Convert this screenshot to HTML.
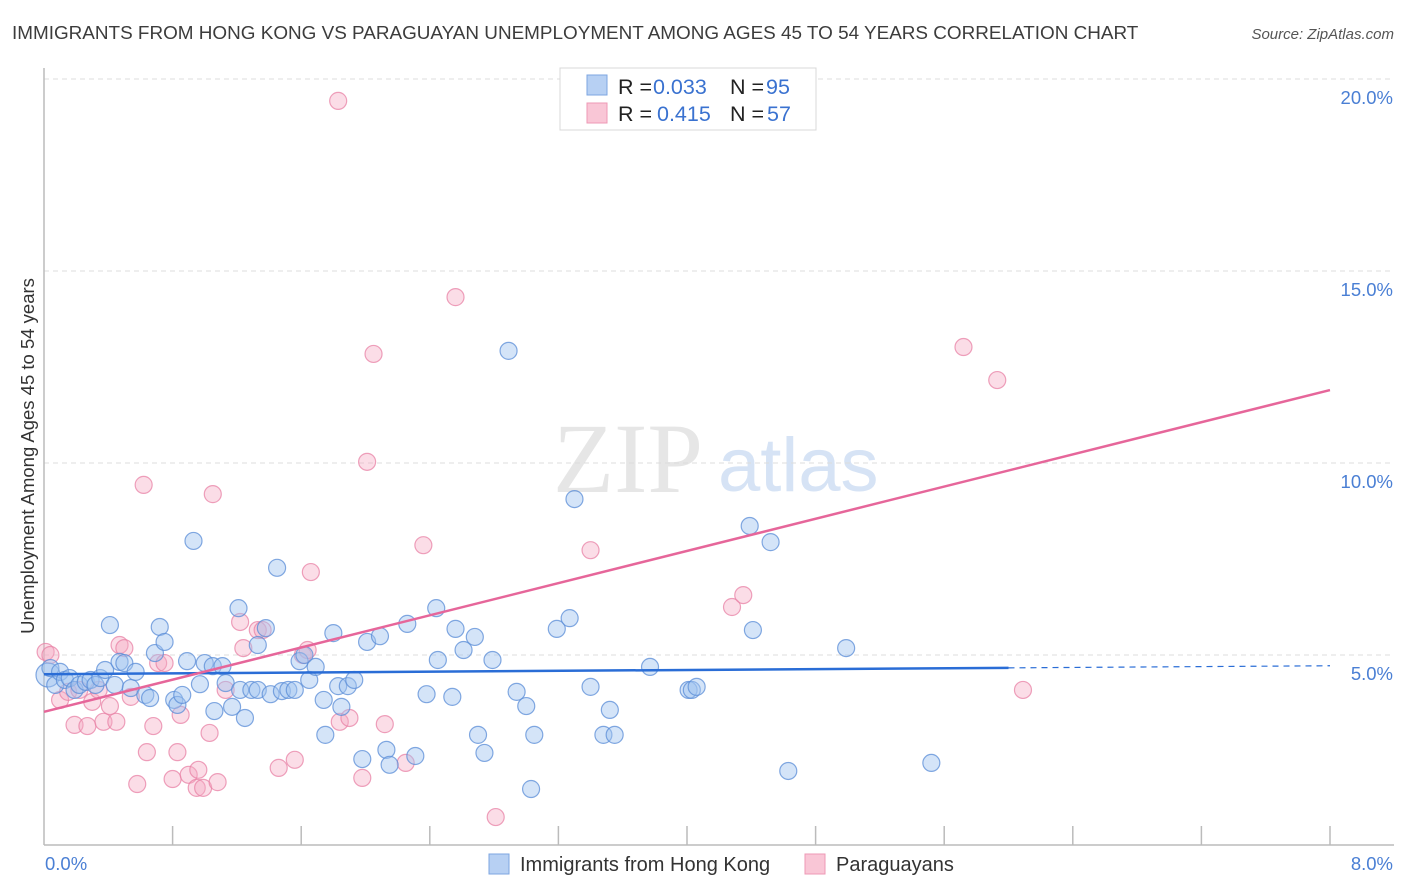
<!DOCTYPE html>
<html><head><meta charset="utf-8">
<style>
body{margin:0;background:#fff;font-family:"Liberation Sans",sans-serif;}
#wrap{position:relative;width:1406px;height:892px;overflow:hidden;}
</style></head>
<body>
<div id="wrap">
<svg id="chart" width="1406" height="892" xmlns="http://www.w3.org/2000/svg"></svg>
</div>
<script>
const blueX=[0.0,.04,.07,.10,.13,.16,.19,.22,.26,.29,.32,.35,.38,.41,.44,.47,.50,.54,.57,.63,.66,.69,.72,.75,.81,.83,.86,.89,.93,.97,1.00,1.05,1.06,1.11,1.13,1.17,1.21,1.22,1.25,1.29,1.33,1.33,1.38,1.41,1.45,1.48,1.52,1.56,1.59,1.62,1.65,1.69,1.74,1.75,1.80,1.83,1.85,1.89,1.93,1.98,2.01,2.09,2.13,2.15,2.31,2.26,2.38,2.44,2.45,2.54,2.56,2.61,2.68,2.70,2.74,2.79,2.89,2.94,3.00,3.03,3.05,3.19,3.27,3.30,3.40,3.48,3.52,3.55,3.77,4.01,4.03,4.06,4.39,4.41,4.52,4.63,4.99,5.52];
const blueY=[4.48,4.66,4.22,4.56,4.35,4.40,4.09,4.22,4.30,4.35,4.22,4.40,4.61,5.78,4.22,4.82,4.79,4.14,4.56,3.96,3.88,5.05,5.73,5.34,3.83,3.70,3.96,4.84,7.97,4.24,4.79,4.71,3.54,4.71,4.27,3.65,6.22,4.09,3.36,4.09,5.26,4.09,5.70,3.98,7.27,4.06,4.09,4.09,4.84,5.00,4.35,4.69,3.83,2.92,5.57,4.19,3.65,4.19,4.35,2.29,5.34,5.49,2.53,2.14,2.37,5.81,3.98,6.22,4.87,3.91,5.68,5.13,5.47,2.92,2.45,4.87,12.92,4.04,3.67,1.51,2.92,5.68,5.96,9.06,4.17,2.92,3.57,2.92,4.69,4.09,4.09,4.17,8.36,5.65,7.94,1.98,5.18,2.19];
const pinkX=[.01,.04,.10,.15,.19,.22,.27,.30,.34,.37,.41,.45,.47,.50,.54,.58,.62,.64,.68,.71,.75,.80,.83,.85,.90,.95,.96,.99,1.03,1.05,1.08,1.13,1.22,1.24,1.33,1.36,1.46,1.56,1.61,1.64,1.66,1.84,1.83,1.90,1.98,2.01,2.05,2.12,2.25,2.36,2.56,2.81,3.40,4.28,4.35,5.72,5.93,6.09];
const pinkY=[5.08,5.00,3.83,4.04,3.18,4.09,3.15,3.78,4.09,3.26,3.67,3.26,5.26,5.18,3.91,1.64,9.43,2.47,3.15,4.79,4.79,1.77,2.47,3.44,1.88,1.54,2.01,1.54,2.97,9.19,1.69,4.09,5.86,5.18,5.65,5.65,2.06,2.27,5.00,5.13,7.16,3.26,19.43,3.36,1.80,10.03,12.84,3.20,2.19,7.86,14.32,0.78,7.73,6.25,6.56,13.02,12.16,4.09];
const yTicks=[5,10,15,20];
const yTickLabels=["5.0%","10.0%","15.0%","20.0%"];
const blueTrend=[4.5,4.72];
const pinkTrend=[3.52,11.9];

const svg=document.getElementById('chart');
const NS='http://www.w3.org/2000/svg';
const X0=44,X1=1330,Y0=847,PXPER=38.4;
const sx=v=>X0+v/8*(X1-X0);
const sy=v=>Y0-v*PXPER;
function mk(tag,attrs,parent){const e=document.createElementNS(NS,tag);for(const k in attrs)e.setAttribute(k,attrs[k]);(parent||svg).appendChild(e);return e;}

let t=mk('text',{x:12,y:39,'font-size':18.9,fill:'#3c3c3c'});


t.textContent='IMMIGRANTS FROM HONG KONG VS PARAGUAYAN UNEMPLOYMENT AMONG AGES 45 TO 54 YEARS CORRELATION CHART';
t=mk('text',{x:1394,y:39,'font-size':15,fill:'#555','text-anchor':'end','font-style':'italic'});


t.textContent='Source: ZipAtlas.com';

t=mk('text',{x:553,y:492,'font-size':100,fill:'#e6e6e6','font-family':'Liberation Serif, serif'});


t.textContent='ZIP';
t=mk('text',{x:718,y:491,'font-size':76,fill:'#d6e3f5'});


t.textContent='atlas';

yTicks.forEach((v,i)=>{
  const g=mk('line',{x1:X0,x2:1394,y1:sy(v),y2:sy(v),stroke:'#dcdcdc','stroke-dasharray':'5,4'});
  
  
  const l=mk('text',{x:1393,y:sy(v)+25,'font-size':18.5,fill:'#4a7fd4','text-anchor':'end'});
  
  
  l.textContent=yTickLabels[i];
});
let a=mk('line',{x1:X0,x2:X0,y1:68,y2:845,stroke:'#bbb','stroke-width':1.5});


a=mk('line',{x1:X0,x2:1394,y1:845,y2:845,stroke:'#bbb','stroke-width':1.5});


for(let i=1;i<=10;i++){
  const tk=mk('line',{x1:sx(i*0.8),x2:sx(i*0.8),y1:826,y2:845,stroke:'#bbb','stroke-width':1.5});
  
  
}
t=mk('text',{x:45,y:870,'font-size':18.5,fill:'#4a7fd4'});


t.textContent='0.0%';
t=mk('text',{x:1393,y:870,'font-size':18.5,fill:'#4a7fd4','text-anchor':'end'});


t.textContent='8.0%';
t=mk('text',{x:34,y:456,'font-size':18.5,fill:'#333','text-anchor':'middle',transform:'rotate(-90 34 456)'});


t.textContent='Unemployment Among Ages 45 to 54 years';

pinkX.forEach((x,i)=>{
  const c=mk('circle',{cx:sx(x),cy:sy(pinkY[i]),r:8.5,fill:'rgba(245,170,195,0.4)',stroke:'rgba(232,130,165,0.75)','stroke-width':1.2});
  
  
});
blueX.forEach((x,i)=>{
  const c=mk('circle',{cx:sx(x)+(i===0?4:0),cy:sy(blueY[i]),r:i===0?12:8.5,fill:'rgba(160,195,240,0.45)',stroke:'rgba(90,140,215,0.75)','stroke-width':1.2});
  
  
});

const bAt=x=>blueTrend[0]+(blueTrend[1]-blueTrend[0])*x/8;
let ln=mk('line',{x1:sx(0),y1:sy(bAt(0)),x2:sx(6),y2:sy(bAt(6)),stroke:'#2a6dd6','stroke-width':2.5});


ln=mk('line',{x1:sx(6),y1:sy(bAt(6)),x2:sx(8),y2:sy(bAt(8)),stroke:'#2a6dd6','stroke-width':1.2,'stroke-dasharray':'6,5'});


ln=mk('line',{x1:sx(0),y1:sy(pinkTrend[0]),x2:sx(8),y2:sy(pinkTrend[1]),stroke:'#e6669a','stroke-width':2.5});



const lg=mk('g',{});


mk('rect',{x:560,y:68,width:256,height:62,fill:'#fff',stroke:'#d8d8d8'},lg);
let s=mk('rect',{x:587,y:75,width:20,height:20,fill:'#b7d0f3',stroke:'#7ea6e0'},lg);


s=mk('rect',{x:587,y:103,width:20,height:20,fill:'#f9c6d6',stroke:'#ee98b5'},lg);


function lt(x,y,txt,col,name){const e=mk('text',{x:x,y:y,'font-size':21.5,fill:col},lg);e.textContent=txt;}
lt(618,94,'R =','#222','legend-r-label');
lt(653,94,'0.033','#3a72d0','legend-r-blue');
lt(730,94,'N =','#222','legend-n-label');
lt(766,94,'95','#3a72d0','legend-n-blue');
lt(618,121,'R =','#222','legend-r-label');
lt(657,121,'0.415','#3a72d0','legend-r-pink');
lt(730,121,'N =','#222','legend-n-label');
lt(767,121,'57','#3a72d0','legend-n-pink');

s=mk('rect',{x:489,y:854,width:20,height:20,fill:'#b7d0f3',stroke:'#7ea6e0'});


t=mk('text',{x:520,y:871,'font-size':20,fill:'#333'});


t.textContent='Immigrants from Hong Kong';
s=mk('rect',{x:805,y:854,width:20,height:20,fill:'#f9c6d6',stroke:'#ee98b5'});


t=mk('text',{x:836,y:871,'font-size':20,fill:'#333'});


t.textContent='Paraguayans';
</script>
</body></html>
